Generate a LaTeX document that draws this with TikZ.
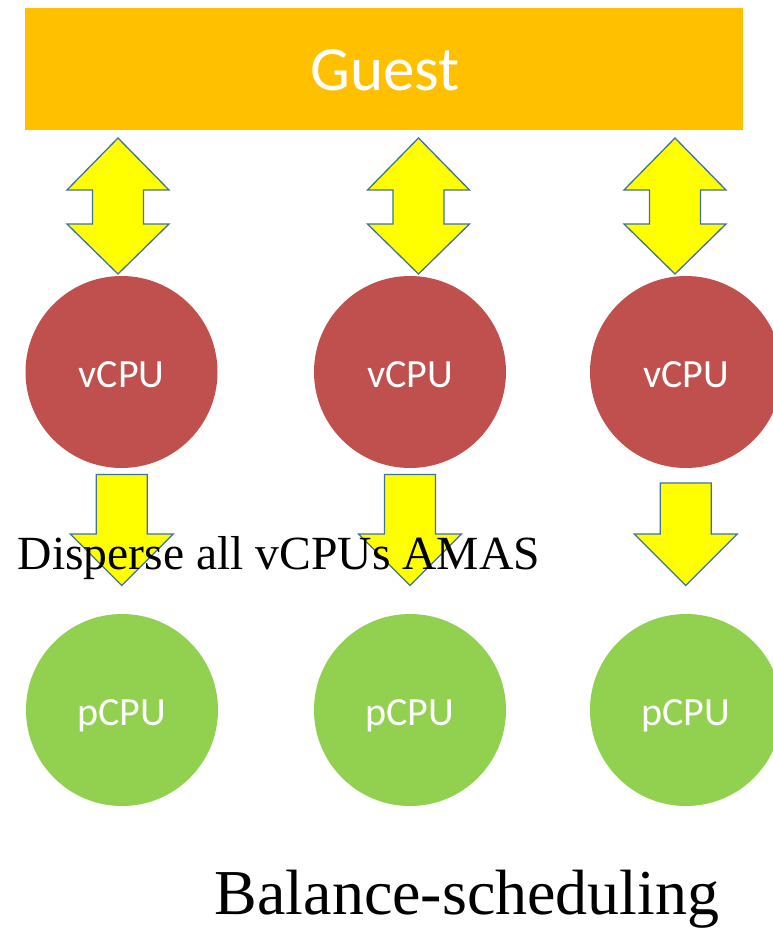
\documentclass[tikz,border=0pt]{standalone}
\usepackage{fontspec}
\setmainfont{Liberation Serif}
\newfontfamily\carlito{Carlito}
\definecolor{guestorange}{HTML}{FFC000}
\definecolor{vcpured}{HTML}{C0504D}
\definecolor{pcpugreen}{HTML}{92D050}
\definecolor{arrowyellow}{HTML}{FFFF00}
\definecolor{arrowblue}{HTML}{41719C}
\begin{document}
\begin{tikzpicture}[x=1pt,y=-1pt,
  cpu/.style={circle,minimum size=192pt,inner sep=0pt,draw=none},
  vcpustyle/.style={cpu,fill=vcpured},
  pcpustyle/.style={cpu,fill=pcpugreen},
  cpulabel/.style={text=white,font=\carlito\fontsize{40}{48}\selectfont,anchor=base,inner sep=0pt},
  blockarrow/.style={fill=arrowyellow,draw=arrowblue,line width=1.3pt,line join=miter},
  updown/.pic={\path[blockarrow] (0,0) -- (51,52) -- (25.5,52) -- (25.5,86) -- (51,86) -- (0,136)
      -- (-51,86) -- (-25.5,86) -- (-25.5,52) -- (-51,52) -- cycle;},
  downarrow/.pic={\path[blockarrow] (-25.5,0) -- (25.5,0) -- (25.5,#1) -- (51.5,#1) -- (0,#1+51.5)
      -- (-51.5,#1) -- (-25.5,#1) -- cycle;}
]
\useasboundingbox (0,0) rectangle (773,930);
% Guest bar
\node[fill=guestorange,minimum width=718pt,minimum height=122pt,inner sep=0pt,anchor=north west] (guest) at (25,8) {};
\node[text=white,font=\carlito\fontsize{63}{75}\selectfont,anchor=base,inner sep=0pt] (guestlabel) at (385,90) {Guest};
% double arrows
\pic at (118,138) {updown};
\pic at (418.5,138) {updown};
\pic at (675,138) {updown};
% vCPU circles
\node[vcpustyle] (v1) at (121.5,372) {};
\node[vcpustyle] (v2) at (410,372) {};
\node[vcpustyle] (v3) at (686,372) {};
\node[cpulabel] (v1l) at (121.5,387) {vCPU};
\node[cpulabel] (v2l) at (410,387) {vCPU};
\node[cpulabel] (v3l) at (686,387) {vCPU};
% down arrows
\pic at (121.7,474.5) {downarrow=59.5};
\pic at (410,474.5) {downarrow=59.5};
\pic at (685.8,483) {downarrow=51};
% pCPU circles
\node[pcpustyle] (p1) at (122,710) {};
\node[pcpustyle] (p2) at (410,710) {};
\node[pcpustyle] (p3) at (686,710) {};
\node[cpulabel] (p1l) at (122,725) {pCPU};
\node[cpulabel] (p2l) at (410,725) {pCPU};
\node[cpulabel] (p3l) at (686,725) {pCPU};
% texts
\node[anchor=base west,inner sep=0pt,font=\fontsize{47.6}{56}\selectfont] (disperse) at (17.5,569) {Disperse all vCPUs AMAS};
\node[anchor=base west,inner sep=0pt,font=\fontsize{64}{76}\selectfont] (balance) at (214.5,914) {Balance-scheduling};
\end{tikzpicture}
\end{document}
